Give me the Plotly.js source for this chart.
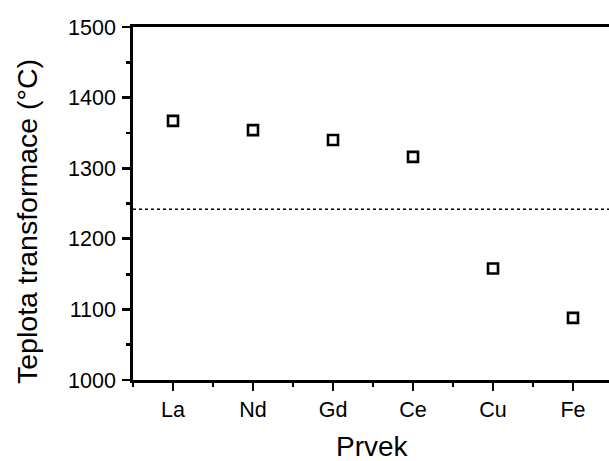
<!DOCTYPE html>
<html>
<head>
<meta charset="utf-8">
<script src="https://cdn.plot.ly/plotly-3.0.1.min.js"></script>
<style>html,body{margin:0;padding:0;background:#fff;}#chart{width:609px;height:461px;}</style>
</head>
<body>
<div id="chart"></div>
<script>
const categories = ['La', 'Nd', 'Gd', 'Ce', 'Cu', 'Fe'];
const temperatures = [1367, 1354, 1340, 1316, 1158, 1088];
const referenceTemperature = 1242;
const yTickValues = [1000, 1100, 1200, 1300, 1400, 1500];

const xIdx = categories.map((c, i) => i);

const trace = {
  x: xIdx,
  y: temperatures,
  type: 'scatter',
  mode: 'markers',
  marker: {symbol: 'square-open', size: 10, color: '#000', line: {width: 2.6, color: '#000'}},
  showlegend: false,
  hoverinfo: 'skip'
};

const font = {family: 'Liberation Sans, Arial, sans-serif', color: '#000'};
const plotW = 476, plotH = 353;

const layout = {
  width: 609, height: 461,
  margin: {l: 133, r: 0, t: 27, b: 81, pad: 0},
  paper_bgcolor: '#fff', plot_bgcolor: '#fff',
  showlegend: false,
  xaxis: {
    range: [-0.5, 5.45],
    tickmode: 'array', tickvals: xIdx, ticktext: categories,
    ticks: 'outside', ticklen: 8, tickwidth: 2.8, tickcolor: '#000',
    minor: {ticks: 'outside', ticklen: 4, tickwidth: 2.8, tickcolor: '#000', dtick: 0.5, tick0: 0.5, tickmode: 'linear'},
    showline: true, linewidth: 2.8, linecolor: '#000', mirror: true,
    showgrid: false, zeroline: false,
    tickfont: Object.assign({size: 21.5}, font)
  },
  yaxis: {
    range: [1000, 1500],
    tickmode: 'array', tickvals: yTickValues,
    ticks: 'outside', ticklen: 8, tickwidth: 2.8, tickcolor: '#000',
    minor: {ticks: 'outside', ticklen: 4, tickwidth: 2.8, tickcolor: '#000', dtick: 50, tick0: 1050, tickmode: 'linear'},
    showline: true, linewidth: 2.8, linecolor: '#000',
    showgrid: false, zeroline: false,
    ticklabelstandoff: 2,
    tickfont: Object.assign({size: 21.5}, font)
  },
  shapes: [{
    type: 'line', xref: 'paper', x0: 0, x1: 1, yref: 'y', y0: referenceTemperature, y1: referenceTemperature,
    line: {color: '#000', width: 1.5, dash: 'dot'}
  }],
  annotations: [{
    text: 'Teplota transformace (°C)', textangle: -90,
    xref: 'paper', yref: 'paper', x: (27 - 133) / plotW, y: (380 - 222) / plotH,
    xanchor: 'center', yanchor: 'middle', showarrow: false,
    font: Object.assign({size: 28.5}, font)
  }, {
    text: 'Prvek',
    xref: 'paper', yref: 'paper', x: (372 - 133) / plotW, y: (380 - 446) / plotH,
    xanchor: 'center', yanchor: 'middle', showarrow: false,
    font: Object.assign({size: 28}, font)
  }]
};

Plotly.newPlot('chart', [trace], layout, {displayModeBar: false, staticPlot: true});
</script>
</body>
</html>
